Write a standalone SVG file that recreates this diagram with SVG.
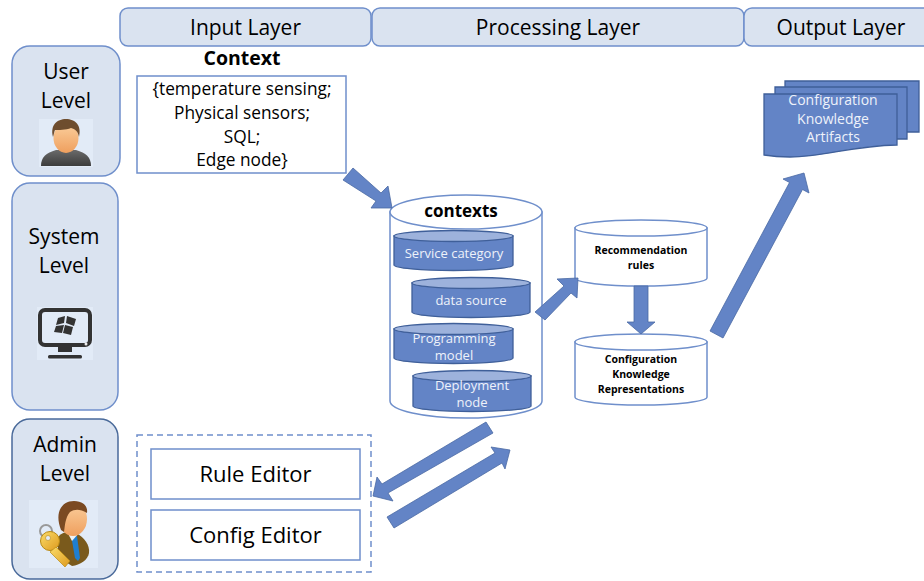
<svg xmlns="http://www.w3.org/2000/svg" width="924" height="581" viewBox="0 0 924 581">
<defs>
<linearGradient id="body" x1="0" y1="0" x2="0" y2="1"><stop offset="0" stop-color="#6a6a6a"/><stop offset="1" stop-color="#3c3c3c"/></linearGradient>
<linearGradient id="face" x1="0" y1="0" x2="0" y2="1"><stop offset="0" stop-color="#fbd09e"/><stop offset="1" stop-color="#ef9f5e"/></linearGradient>
<linearGradient id="key" x1="0" y1="0" x2="1" y2="1"><stop offset="0" stop-color="#fbdc6a"/><stop offset="1" stop-color="#dd9a1e"/></linearGradient>
</defs>
<style>
text{font-family:"Open Sans","Noto Sans","Liberation Sans",sans-serif;text-anchor:middle;fill:#000}
.band{fill:#dae3f0;stroke:#6f8fcb;stroke-width:1.5}
.box{fill:#fff;stroke:#6f8fcb;stroke-width:1.5}
.arrow{fill:#6384c6;stroke:#4a69a3;stroke-width:.8}
.cyl{fill:#6384c6;stroke:#3f5f99;stroke-width:1.3}
.cap{fill:#9db2dc;stroke:#3f5f99;stroke-width:1.3}
.w{fill:#eef2fa;font-size:13px}
.h{font-size:21px}
.b{font-weight:700;font-size:10.5px}
.t{font-size:17.3px}
.e{font-size:22px}
</style>
<g id="input-layer"><rect class="band" x="120" y="8" width="251" height="38" rx="8"/><text class="h" x="245.500" y="35">Input Layer</text></g>
<g id="processing-layer"><rect class="band" x="372" y="8" width="372" height="38" rx="8"/><text class="h" x="558" y="35">Processing Layer</text></g>
<g id="output-layer"><rect class="band" x="744" y="8" width="190" height="38" rx="8"/><text class="h" x="841" y="35">Output Layer</text></g>

<g id="user-level"><rect class="band" x="12" y="46" width="108" height="130" rx="18"/>
<text class="h" x="66" y="79">User</text><text class="h" x="66" y="108">Level</text>
<rect x="39" y="119" width="54" height="48" fill="#e2ebf7"/>
<path d="M41 166C41 157 46 153 56 150L76 150C86 153 91 157 91 166Z" fill="url(#body)"/>
<ellipse cx="66" cy="138" rx="12.500" ry="15" fill="url(#face)"/>
<path d="M53 137C50 125 57 119 66 119C75 119 82 125 79 137C78 131 75 129 71 128C66 130 58 130 55 130C54 132 54 134 53 137Z" fill="#6e4d2e"/>
</g>

<g id="system-level"><rect class="band" x="12" y="183" width="106" height="227" rx="18"/>
<text class="h" x="64" y="244">System</text><text class="h" x="64" y="273">Level</text>
<rect x="37" y="307" width="56" height="53" fill="#e2ebf7"/>
<rect x="40" y="310" width="50" height="35" rx="5" fill="#e2ebf7" stroke="#333" stroke-width="4"/>
<path d="M58 347H72V352H58Z" fill="#333"/><rect x="48" y="355" width="34" height="3.500" rx="1.500" fill="#333"/>
<path d="M58 318L65 316L64 323L56 325ZM67 316L76 319L74 326L66 323ZM56 326L64 325L62 333L54 332ZM65 325L73 327L71 335L63 333Z" fill="#333"/>
<circle cx="86" cy="344" r="1.500" fill="#eee"/>
</g>

<g id="admin-level"><rect class="band" x="12" y="419" width="106" height="160" rx="18" style="stroke:#4a6a9a"/>
<text class="h" x="65" y="452">Admin</text><text class="h" x="65" y="481">Level</text>
<rect x="29" y="500" width="69" height="68" fill="#e2ebf7"/>
<path d="M58 537C63 531 70 531 76 533C84 537 90 545 89 553C88 560 80 565 72 566L58 557Z" fill="#7a5a1c"/>
<path d="M71 535L77 536L80 558L78 561L75 558Z" fill="#1f7fd0"/>
<path d="M66 530L72 541L79 533Z" fill="#f2f2f2"/>
<ellipse cx="73" cy="519" rx="14" ry="17" fill="url(#face)"/>
<path d="M61 530C54 512 62 501 74 501C83 501 88 506 87 513C80 509 75 509 70 512C65 518 65 526 64 532Z" fill="#7b4a22"/>
<circle cx="46" cy="531" r="6" fill="none" stroke="#999" stroke-width="2"/>
<circle cx="50" cy="541" r="9.500" fill="url(#key)" stroke="#b98a14"/>
<circle cx="48" cy="538" r="2.500" fill="#e2ebf7" stroke="#b98a14" stroke-width=".6"/>
<path d="M56 547L70 561L65 567L50 552Z" fill="url(#key)" stroke="#b98a14" stroke-width=".7"/>
</g>

<g id="context"><text x="242" y="65" style="font-size:19.500px;font-weight:700">Context</text>
<rect class="box" x="137" y="76" width="209" height="97"/>
<text class="t" x="242" y="95">{temperature sensing;</text><text class="t" x="242" y="119">Physical sensors;</text><text class="t" x="242" y="143">SQL;</text><text class="t" x="242" y="166">Edge node}</text></g>

<g id="contexts">
<path class="box" d="M390 212V401A76 17 0 0 0 542 401V212Z"/>
<ellipse class="box" cx="466" cy="212" rx="76" ry="17"/>
<text x="461" y="217" style="font-size:17px;font-weight:700">contexts</text>
</g>
<g id="service-category"><path class="cyl" d="M394 236V265A59.500 5.500 0 0 0 513 265V236Z"/><ellipse class="cap" cx="453.500" cy="236" rx="59.500" ry="5.500"/><text class="w" x="454" y="258">Service category</text></g>
<g id="data-source"><path class="cyl" d="M412 283V312A59 5.500 0 0 0 530 312V283Z"/><ellipse class="cap" cx="471" cy="283" rx="59" ry="5.500"/><text class="w" x="471" y="305">data source</text></g>
<g id="programming-model"><path class="cyl" d="M394 329V358A59.500 5.500 0 0 0 513 358V329Z"/><ellipse class="cap" cx="453.500" cy="329" rx="59.500" ry="5.500"/><text class="w" x="454" y="343">Programming</text><text class="w" x="454" y="360">model</text></g>
<g id="deployment-node"><path class="cyl" d="M413 376V406A59 5.500 0 0 0 531 406V376Z"/><ellipse class="cap" cx="472" cy="376" rx="59" ry="5.500"/><text class="w" x="472" y="390">Deployment</text><text class="w" x="472" y="407">node</text></g>

<g id="recommendation-rules"><path class="box" d="M575 228V278A66 8 0 0 0 707 278V228Z"/><ellipse class="box" cx="641" cy="228" rx="66" ry="8"/>
<text class="b" x="641" y="254">Recommendation</text><text class="b" x="641" y="269">rules</text></g>
<g id="configuration-knowledge"><path class="box" d="M575 342V397A66 8 0 0 0 707 397V342Z"/><ellipse class="box" cx="641" cy="342" rx="66" ry="8"/>
<text class="b" x="641" y="363">Configuration</text><text class="b" x="641" y="378">Knowledge</text><text class="b" x="641" y="393">Representations</text></g>

<g id="artifacts">
<path class="cyl" d="M785 81H919V132H890V90H785Z"/>
<path class="cyl" d="M775 87H907V139H880V95H775Z"/>
<path class="cyl" d="M764 94H897V145C850 146 825 157 790 157C778 157 770 156 764 155Z"/>
<text class="w" style="font-size:14px" x="833" y="105">Configuration</text><text class="w" style="font-size:14px" x="833" y="124">Knowledge</text><text class="w" style="font-size:14px" x="833" y="142">Artifacts</text>
</g>

<g id="editors"><rect x="137" y="435" width="234" height="137" fill="none" stroke="#6f8fcb" stroke-width="1.500" stroke-dasharray="6 4"/></g>
<g id="rule-editor"><rect class="box" x="151" y="449" width="209" height="50"/><text class="e" x="255.500" y="482">Rule Editor</text></g>
<g id="config-editor"><rect class="box" x="151" y="510" width="209" height="50"/><text class="e" x="255.500" y="543">Config Editor</text></g>

<g id="connectors">
<polygon class="arrow" points="343,180 353,168 381,193 388,186 392,208 371,208 376,201"/>
<polygon class="arrow" points="535,312 564,286 557,279 578,278 577,298 571,293 545,320"/>
<polygon class="arrow" points="634,286 648,286 648,322 655,322 641,334 627,322 634,322"/>
<polygon class="arrow" points="710,331 789.500,182.500 783,179 804,173 809,193 802.500,189.500 723,338"/>
<polygon class="arrow" points="486,422 493,433 388,493 393,501 373,496 377,477 382,484"/>
<polygon class="arrow" points="387,517 495,453 491,447 510,450 505,469 502,463 394,528"/>
</g>
</svg>
